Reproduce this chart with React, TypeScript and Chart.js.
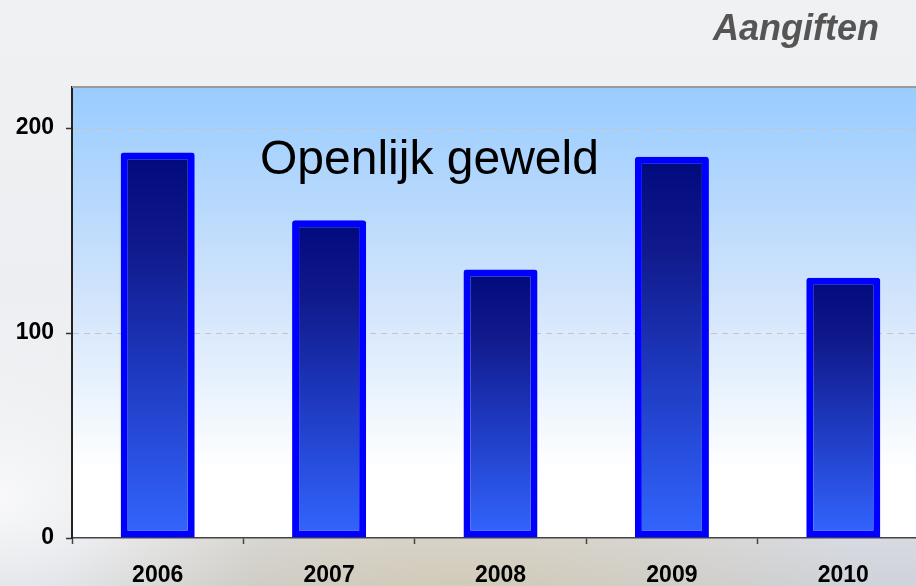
import React, { useEffect, useRef } from "react";
import { Chart, registerables } from "chart.js";

Chart.register(...registerables);

const categories = ["2006", "2007", "2008", "2009", "2010"];
const aangiften = [188, 155, 131, 186, 127];
const yTickValues = [0, 100, 200];
const yMax = 220;
const chartTitle = "Aangiften";
const plotLabel = "Openlijk geweld";

const FONT = '"Liberation Sans", Arial, sans-serif';

const decorPlugin = {
  id: "decor",
  beforeDraw(chart: any) {
    const { ctx, chartArea } = chart;
    if (!chartArea) return;
    const { left, top, right, bottom } = chartArea;
    ctx.save();
    const g = ctx.createLinearGradient(0, top, 0, bottom);
    g.addColorStop(0, "#99ccff");
    g.addColorStop(0.45, "#cfe3fb");
    g.addColorStop(0.85, "#ffffff");
    g.addColorStop(1, "#ffffff");
    ctx.fillStyle = g;
    ctx.fillRect(left, top, right - left, bottom - top);
    ctx.restore();
  },
  afterDraw(chart: any) {
    const { ctx, chartArea } = chart;
    if (!chartArea) return;
    ctx.save();
    ctx.strokeStyle = "#9a9a9a";
    ctx.lineWidth = 2;
    ctx.beginPath();
    ctx.moveTo(chartArea.left, chartArea.top);
    ctx.lineTo(chartArea.right, chartArea.top);
    ctx.stroke();
    ctx.fillStyle = "#555555";
    ctx.font = `italic bold 36px ${FONT}`;
    ctx.textAlign = "right";
    ctx.textBaseline = "alphabetic";
    ctx.fillText(chartTitle, 879, 40);
    ctx.fillStyle = "#000000";
    ctx.font = `48px ${FONT}`;
    ctx.textAlign = "left";
    ctx.fillText(plotLabel, 260, 174);
    ctx.restore();
  },
};

export default function App() {
  const ref = useRef<HTMLCanvasElement | null>(null);

  useEffect(() => {
    document.body.style.margin = "0";
    document.body.style.overflow = "hidden";
    const canvas = ref.current;
    if (!canvas) return;
    const chart = new Chart(canvas, {
      type: "bar",
      data: {
        labels: categories,
        datasets: [
          {
            label: chartTitle,
            data: aangiften,
            backgroundColor: (c: any) => {
              const ch = c.chart;
              const area = ch.chartArea;
              if (!area || c.type !== "data" || !ch.scales.y) return "#2244cc";
              const y = ch.scales.y;
              const t = y.getPixelForValue(c.raw);
              const b = y.getPixelForValue(0);
              const g = ch.ctx.createLinearGradient(0, t, 0, b);
              g.addColorStop(0, "#000a7c");
              g.addColorStop(0.25, "#101a8c");
              g.addColorStop(0.6, "#1f3cc4");
              g.addColorStop(1, "#3366ff");
              return g;
            },
            borderColor: "#0000ff",
            borderWidth: 7,
            borderSkipped: false,
            borderRadius: { topLeft: 3, topRight: 3, bottomLeft: 0, bottomRight: 0 },
            barPercentage: 0.432,
            categoryPercentage: 1,
          },
        ],
      },
      options: {
        responsive: false,
        animation: false,
        layout: { padding: { top: 87, left: 0, right: 0, bottom: 0 } },
        plugins: {
          legend: { display: false },
          title: { display: false },
          tooltip: { enabled: false },
        },
        scales: {
          x: {
            afterFit: (s: any) => {
              s.height = 48;
            },
            grid: {
              offset: true,
              drawOnChartArea: false,
              drawTicks: true,
              tickLength: 6,
              tickColor: "#444",
              tickWidth: 1.5,
            },
            border: { color: "#444", width: 1.5 },
            ticks: {
              color: "#000",
              font: { family: FONT, size: 23, weight: "bold" },
              padding: 18,
              maxRotation: 0,
            },
          },
          y: {
            min: 0,
            max: yMax,
            afterFit: (s: any) => {
              s.width = 72;
            },
            afterBuildTicks: (s: any) => {
              s.ticks = yTickValues.map((v) => ({ value: v }));
            },
            grid: {
              color: (c: any) => (c.tick && c.tick.value === 0 ? "rgba(0,0,0,0)" : "#c4c4c4"),
              lineWidth: 1,
              drawTicks: true,
              tickLength: 6,
              tickColor: "#333",
              tickWidth: 1.5,
            },
            border: { color: "#222", width: 2, dash: [6, 5] },
            ticks: {
              color: "#000",
              font: { family: FONT, size: 23, weight: "bold" },
              padding: 12,
            },
          },
        },
      },
      plugins: [decorPlugin],
    } as any);
    return () => chart.destroy();
  }, []);

  return (
    <div
      style={{
        position: "fixed",
        left: 0,
        top: 0,
        width: 916,
        height: 586,
        overflow: "hidden",
        background:
          "radial-gradient(ellipse 45% 30% at 50% 105%, rgba(214,190,130,0.45), rgba(214,190,130,0) 100%), radial-gradient(ellipse 30% 35% at 0% 85%, rgba(255,255,255,0.8), rgba(255,255,255,0) 100%), linear-gradient(180deg, #eff1f3 0%, #eceef1 55%, #dcdee3 88%, #cfd2da 100%)",
      }}
    >
      <canvas ref={ref} width={929} height={586} style={{ display: "block", width: 929, height: 586 }} />
    </div>
  );
}
